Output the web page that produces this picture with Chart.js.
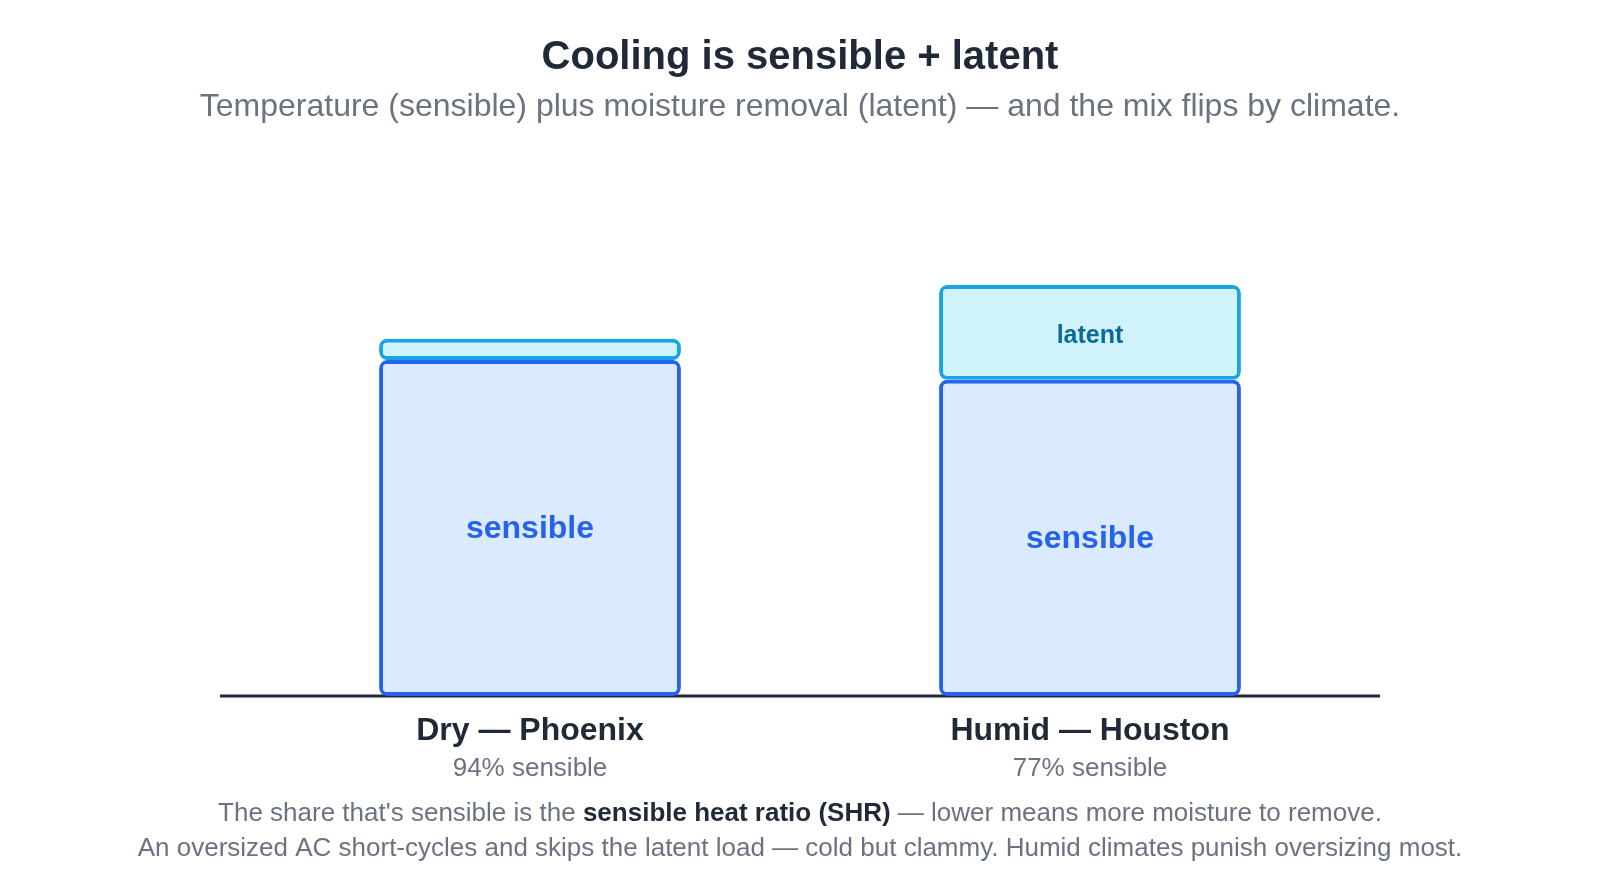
<!DOCTYPE html>
<html lang="en">
<head>
    <meta charset="UTF-8">
    <meta name="viewport" content="width=device-width, initial-scale=1.0">
    <script src="https://cdn.jsdelivr.net/npm/chart.js@4.4.1/dist/chart.umd.min.js"></script>
    <title>Cooling is sensible + latent</title>
    <style>
        body { margin: 0; background: #fff; }
        #wrap { width: 1600px; height: 880px; }
    </style>
</head>
<body>
    <div id="wrap">
        <canvas id="shr-chart"></canvas>
    </div>
    <script>
        // data (Phoenix total = 100)
        var cities = ['Dry — Phoenix', 'Humid — Houston'];
        var sensible = [94, 88.5];
        var latent = [6, 26.5];
        var shareLabels = ['94% sensible', '77% sensible'];

        var titleText = 'Cooling is sensible + latent';
        var subtitleText = 'Temperature (sensible) plus moisture removal (latent) — and the mix flips by climate.';
        // footer line 1 is split so the middle part can be bold
        var footer1 = ["The share that's sensible is the ", 'sensible heat ratio (SHR)', ' — lower means more moisture to remove.'];
        var footer2 = 'An oversized AC short-cycles and skips the latent load — cold but clammy. Humid climates punish oversizing most.';

        var FONT = '"Liberation Sans", Arial, Helvetica, sans-serif';
        var dark = '#1f2937';
        var grey = '#6b7280';

        // baseline under the bars, drawn before the bars so their borders sit on top
        var baseLine = {
            id: 'baseLine',
            beforeDatasetsDraw: function(chart) {
                var c = chart.ctx;
                var y = chart.scales.y.getPixelForValue(0);
                c.save();
                c.strokeStyle = dark;
                c.lineWidth = 3;
                c.beginPath();
                c.moveTo(chart.chartArea.left - 30, y);
                c.lineTo(chart.chartArea.right + 10, y);
                c.stroke();
                c.restore();
            }
        };

        // title, words inside the segments, city names + share under the axis, footer notes
        var textBits = {
            id: 'textBits',
            afterDatasetsDraw: function(chart) {
                var c = chart.ctx;
                var cx = chart.width / 2;
                c.save();
                c.textAlign = 'center';
                c.textBaseline = 'middle';

                c.fillStyle = dark;
                c.font = 'bold 40px ' + FONT;
                c.fillText(titleText, cx, 58);
                c.fillStyle = grey;
                c.font = '32px ' + FONT;
                c.fillText(subtitleText, cx, 107);

                chart.data.datasets.forEach(function(ds, di) {
                    var meta = chart.getDatasetMeta(di);
                    meta.data.forEach(function(bar) {
                        var h = Math.abs(bar.base - bar.y);
                        if (h < 40) return;
                        c.fillStyle = ds.textColor;
                        c.font = 'bold ' + ds.textSize + 'px ' + FONT;
                        c.fillText(ds.label, bar.x, (bar.y + bar.base) / 2 + ds.textDy);
                    });
                });

                var xs = chart.scales.x;
                var yBase = chart.scales.y.getPixelForValue(0);
                for (var i = 0; i < cities.length; i++) {
                    var x = xs.getPixelForValue(i);
                    c.fillStyle = dark;
                    c.font = 'bold 32px ' + FONT;
                    c.fillText(cities[i], x, yBase + 35);
                    c.fillStyle = grey;
                    c.font = '26px ' + FONT;
                    c.fillText(shareLabels[i], x, yBase + 73);
                }

                // footer line 1 with a bold middle piece
                var fonts = ['26px ' + FONT, 'bold 26px ' + FONT, '26px ' + FONT];
                var colors = [grey, dark, grey];
                var widths = [];
                var total = 0;
                for (var k = 0; k < footer1.length; k++) {
                    c.font = fonts[k];
                    widths[k] = c.measureText(footer1[k]).width;
                    total += widths[k];
                }
                var fx = cx - total / 2;
                c.textAlign = 'left';
                for (var k = 0; k < footer1.length; k++) {
                    c.font = fonts[k];
                    c.fillStyle = colors[k];
                    c.fillText(footer1[k], fx, 814);
                    fx += widths[k];
                }
                c.textAlign = 'center';
                c.font = '26px ' + FONT;
                c.fillStyle = grey;
                c.fillText(footer2, cx, 849);
                c.restore();
            }
        };

        var radius = {topLeft: 8, topRight: 8, bottomLeft: 8, bottomRight: 8};

        var ctx = document.getElementById('shr-chart');
        var myChart = new Chart(ctx, {
            type: 'bar',
            data: {
                labels: cities,
                datasets: [{
                    label: 'sensible',
                    data: sensible,
                    backgroundColor: '#dbeafe',
                    borderColor: '#2563eb',
                    textColor: '#2563eb',
                    textSize: 32,
                    textDy: 1
                }, {
                    label: 'latent',
                    data: latent,
                    backgroundColor: '#cff2fb',
                    borderColor: '#16a6e3',
                    textColor: '#0b6a9c',
                    textSize: 25,
                    textDy: 4
                }]
            },
            options: {
                responsive: true,
                maintainAspectRatio: false,
                animation: false,
                layout: { padding: { left: 250, right: 230, top: 160, bottom: 184 } },
                datasets: {
                    bar: {
                        borderWidth: 4,
                        borderSkipped: false,
                        borderRadius: radius,
                        barPercentage: 0.539,
                        categoryPercentage: 1
                    }
                },
                plugins: {
                    legend: { display: false },
                    tooltip: { enabled: false }
                },
                scales: {
                    x: {
                        stacked: true,
                        display: false
                    },
                    y: {
                        stacked: true,
                        display: false,
                        min: 0,
                        max: 150
                    }
                }
            },
            plugins: [baseLine, textBits]
        });
    </script>
</body>
</html>
